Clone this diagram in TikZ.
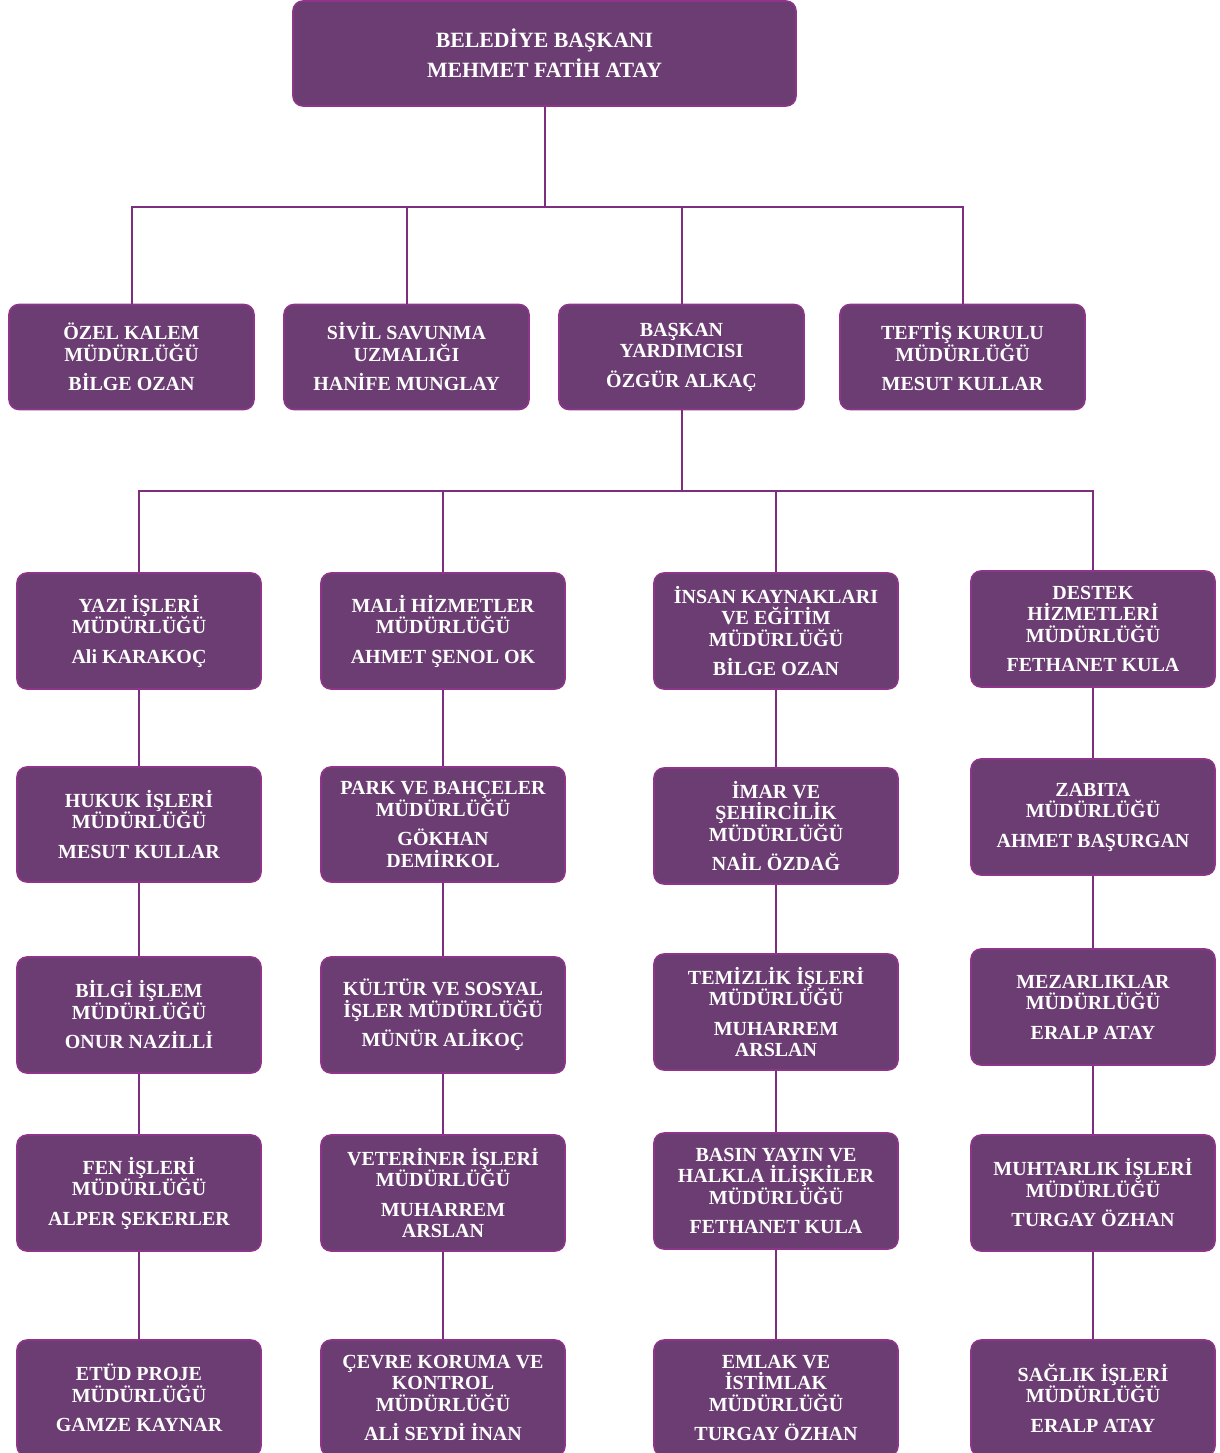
\documentclass[tikz,border=0pt]{standalone}
\usepackage{fontspec}
\setmainfont{Liberation Serif}
\definecolor{boxfill}{HTML}{6B3D72}
\definecolor{boxline}{HTML}{8E3589}
\definecolor{conn}{HTML}{7E2E7E}
\begin{document}
\begin{tikzpicture}[x=1pt,y=-1pt,
  unit/.style={draw=boxline, line width=1.6pt, fill=boxfill, rounded corners=10pt,
    minimum width=244pt, minimum height=116pt, inner sep=0pt, text=white,
    align=center, font=\bfseries\fontsize{20}{21.5}\selectfont},
  toprow/.style={unit, minimum width=245pt, minimum height=105pt},
  link/.style={draw=conn, line width=2pt}]
\useasboundingbox (0,0) rectangle (1219,1453);
\clip (0,0) rectangle (1219,1453);

\node[unit, minimum width=503pt, minimum height=105pt,
  font=\bfseries\fontsize{21.8}{30}\selectfont] (top) at (544.5,53.5)
  {BELEDİYE BAŞKANI\\MEHMET FATİH ATAY};

\node[toprow] (ozel) at (131.5,357) {ÖZEL KALEM\\MÜDÜRLÜĞÜ\\[8pt]BİLGE OZAN};
\node[toprow] (sivil) at (406.5,357) {SİVİL SAVUNMA\\UZMALIĞI\\[8pt]HANİFE MUNGLAY};
\node[toprow] (baskan) at (681.5,357) {BAŞKAN\\YARDIMCISI\\[8pt]ÖZGÜR ALKAÇ};
\node[toprow] (teftis) at (962.5,357) {TEFTİŞ KURULU\\MÜDÜRLÜĞÜ\\[8pt]MESUT KULLAR};

% column 1
\node[unit] (a1) at (139,631) {YAZI İŞLERİ\\MÜDÜRLÜĞÜ\\[8pt]Ali KARAKOÇ};
\node[unit, minimum height=115pt] (a2) at (139,824.5) {HUKUK İŞLERİ\\MÜDÜRLÜĞÜ\\[8pt]MESUT KULLAR};
\node[unit] (a3) at (139,1015) {BİLGİ İŞLEM\\MÜDÜRLÜĞÜ\\[8pt]ONUR NAZİLLİ};
\node[unit] (a4) at (139,1193) {FEN İŞLERİ\\MÜDÜRLÜĞÜ\\[8pt]ALPER ŞEKERLER};
\node[unit] (a5) at (139,1398) {ETÜD PROJE\\MÜDÜRLÜĞÜ\\[8pt]GAMZE KAYNAR};

% column 2
\node[unit] (b1) at (443,631) {MALİ HİZMETLER\\MÜDÜRLÜĞÜ\\[8pt]AHMET ŞENOL OK};
\node[unit, minimum height=115pt] (b2) at (443,824.5) {PARK VE BAHÇELER\\MÜDÜRLÜĞÜ\\[8pt]GÖKHAN\\DEMİRKOL};
\node[unit] (b3) at (443,1015) {KÜLTÜR VE SOSYAL\\İŞLER MÜDÜRLÜĞÜ\\[8pt]MÜNÜR ALİKOÇ};
\node[unit] (b4) at (443,1193) {VETERİNER İŞLERİ\\MÜDÜRLÜĞÜ\\[8pt]MUHARREM\\ARSLAN};
\node[unit] (b5) at (443,1398) {ÇEVRE KORUMA VE\\KONTROL\\MÜDÜRLÜĞÜ\\[8pt]ALİ SEYDİ İNAN};

% column 3
\node[unit] (c1) at (776,631) {İNSAN KAYNAKLARI\\VE EĞİTİM\\MÜDÜRLÜĞÜ\\[8pt]BİLGE OZAN};
\node[unit] (c2) at (776,826) {İMAR VE\\ŞEHİRCİLİK\\MÜDÜRLÜĞÜ\\[8pt]NAİL ÖZDAĞ};
\node[unit] (c3) at (776,1012) {TEMİZLİK İŞLERİ\\MÜDÜRLÜĞÜ\\[8pt]MUHARREM\\ARSLAN};
\node[unit] (c4) at (776,1191) {BASIN YAYIN VE\\HALKLA İLİŞKİLER\\MÜDÜRLÜĞÜ\\[8pt]FETHANET KULA};
\node[unit] (c5) at (776,1398) {EMLAK VE\\İSTİMLAK\\MÜDÜRLÜĞÜ\\[8pt]TURGAY ÖZHAN};

% column 4
\node[unit] (d1) at (1093,629) {DESTEK\\HİZMETLERİ\\MÜDÜRLÜĞÜ\\[8pt]FETHANET KULA};
\node[unit] (d2) at (1093,817) {ZABITA\\MÜDÜRLÜĞÜ\\[8pt]AHMET BAŞURGAN};
\node[unit] (d3) at (1093,1007) {MEZARLIKLAR\\MÜDÜRLÜĞÜ\\[8pt]ERALP ATAY};
\node[unit] (d4) at (1093,1193) {MUHTARLIK İŞLERİ\\MÜDÜRLÜĞÜ\\[8pt]TURGAY ÖZHAN};
\node[unit] (d5) at (1093,1398) {SAĞLIK İŞLERİ\\MÜDÜRLÜĞÜ\\[8pt]ERALP ATAY};

% connectors from mayor
\foreach \n in {ozel,sivil,baskan,teftis}
  \draw[link] (top.south) -- ++(0,100) -| (\n.north);

% connectors from vice mayor
\foreach \n in {a1,b1,c1,d1}
  \draw[link] (baskan.south) -- ++(0,81) -| (\n.north);

% vertical chains
\foreach \c in {a,b,c,d}{
  \draw[link] (\c1.south) -- (\c2.north);
  \draw[link] (\c2.south) -- (\c3.north);
  \draw[link] (\c3.south) -- (\c4.north);
  \draw[link] (\c4.south) -- (\c5.north);
}
\end{tikzpicture}
\end{document}
